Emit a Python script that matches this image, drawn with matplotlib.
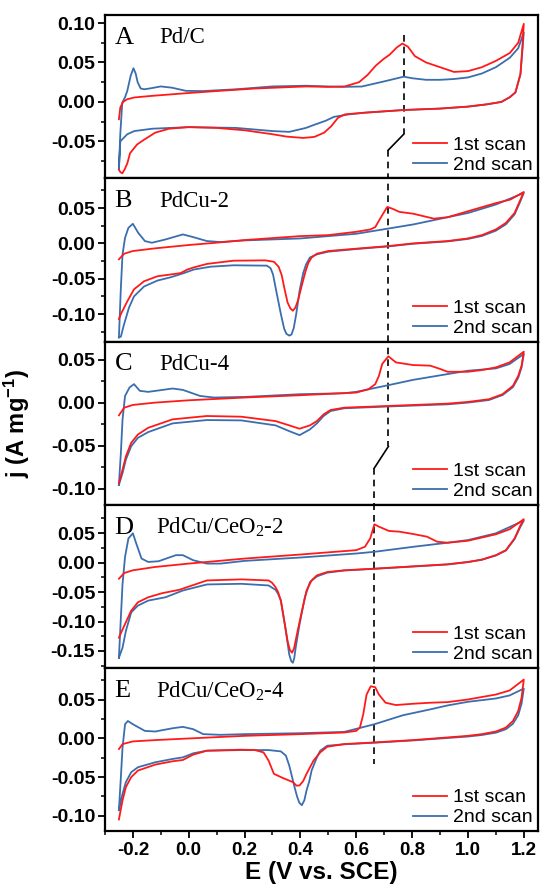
import matplotlib
matplotlib.use("Agg")
import matplotlib.pyplot as plt
from matplotlib.ticker import MultipleLocator, FormatStrFormatter

plt.rcParams['font.family'] = ['Liberation Sans', 'DejaVu Sans']
plt.rcParams['mathtext.default'] = 'regular'

# ---- data: potential E (V vs SCE) and current j (A/mg)
# each scan = anodic sweep (-0.25 -> 1.2) followed by cathodic sweep back

# A  Pd/C
A1_E = [-0.25, -0.245, -0.235, -0.22, -0.195, -0.13, -0.01, 0.11, 0.24, 0.42, 0.5, 0.56, 0.61,
        0.64, 0.67, 0.7, 0.72, 0.745, 0.765, 0.785, 0.81, 0.85, 0.9, 0.95, 1.0, 1.05, 1.1, 1.15,
        1.18, 1.2,
        1.195, 1.188, 1.17, 1.15, 1.12, 1.07, 1.0, 0.9, 0.77, 0.63, 0.56, 0.535, 0.51, 0.485,
        0.45, 0.41, 0.35, 0.3, 0.2, 0.1, 0.0, -0.07, -0.12, -0.16, -0.185, -0.21, -0.22, -0.23,
        -0.238, -0.245, -0.25]
A1_j = [-0.022, -0.007, 0.0, 0.0034, 0.0056, 0.0077, 0.011, 0.014, 0.017, 0.0196, 0.019, 0.0197,
        0.025, 0.034, 0.046, 0.055, 0.06, 0.069, 0.074, 0.07, 0.058, 0.05, 0.044, 0.038, 0.039,
        0.044, 0.052, 0.062, 0.075, 0.099,
        0.07, 0.035, 0.012, 0.006, 0.0, -0.003, -0.006, -0.0085, -0.0103, -0.0137, -0.0158,
        -0.02, -0.031, -0.039, -0.0444, -0.0457, -0.044, -0.041, -0.036, -0.033, -0.032, -0.034,
        -0.039, -0.048, -0.054, -0.065, -0.078, -0.086, -0.0906, -0.089, -0.086]
A2_E = [-0.25, -0.245, -0.238, -0.228, -0.22, -0.208, -0.198, -0.19, -0.183, -0.172, -0.16,
        -0.14, -0.1, -0.06, -0.01, 0.05, 0.17, 0.3, 0.42, 0.55, 0.62, 0.7, 0.77, 0.8, 0.85, 0.9,
        0.95, 1.0, 1.05, 1.1, 1.15, 1.18, 1.2,
        1.195, 1.188, 1.17, 1.15, 1.12, 1.07, 1.0, 0.9, 0.77, 0.63, 0.57, 0.52, 0.49, 0.45,
        0.42, 0.36, 0.3, 0.17, 0.0, -0.13, -0.195, -0.22, -0.245, -0.25]
A2_j = [-0.085, -0.04, -0.001, 0.006, 0.014, 0.033, 0.0427, 0.036, 0.025, 0.017, 0.016, 0.017,
        0.0196, 0.018, 0.014, 0.0137, 0.016, 0.0196, 0.0205, 0.019, 0.0195, 0.026, 0.032, 0.03,
        0.028, 0.028, 0.029, 0.031, 0.036, 0.044, 0.056, 0.068, 0.088,
        0.065, 0.035, 0.012, 0.006, 0.0, -0.003, -0.006, -0.0085, -0.0103, -0.0137, -0.016,
        -0.019, -0.024, -0.029, -0.033, -0.038, -0.037, -0.033, -0.032, -0.034, -0.037, -0.041,
        -0.05, -0.085]

# B  PdCu-2
B1_E = [-0.25, -0.231, -0.2, -0.12, 0.0, 0.1, 0.2, 0.4, 0.5, 0.6, 0.65, 0.668, 0.687, 0.711,
        0.73, 0.754, 0.804, 0.841, 0.878, 0.927, 1.0, 1.1, 1.152, 1.2,
        1.186, 1.167, 1.136, 1.1, 1.05, 1.0, 0.927, 0.804, 0.715, 0.6, 0.5, 0.459, 0.44, 0.428,
        0.418, 0.403, 0.392, 0.382, 0.373, 0.364, 0.354, 0.342, 0.333, 0.322, 0.305, 0.274,
        0.16, 0.066, 0.018, -0.005, -0.029, -0.065, -0.112, -0.16, -0.196, -0.22, -0.243, -0.25]
B1_j = [-0.0225, -0.0146, -0.0108, -0.007, -0.0023, 0.001, 0.0047, 0.0103, 0.0117, 0.0164,
        0.0197, 0.023, 0.036, 0.0516, 0.049, 0.0446, 0.042, 0.0385, 0.035, 0.037, 0.0455, 0.057,
        0.062, 0.0728,
        0.06, 0.043, 0.029, 0.0197, 0.0117, 0.007, 0.0033, 0.0, -0.0038, -0.0075, -0.0108,
        -0.0146, -0.02, -0.028, -0.04, -0.0624, -0.08, -0.091, -0.0953, -0.092, -0.0836,
        -0.0624, -0.045, -0.033, -0.026, -0.024,
        -0.0245, -0.029, -0.034, -0.037, -0.042, -0.044, -0.0465, -0.0536, -0.065, -0.082,
        -0.1, -0.107]
B2_E = [-0.25, -0.243, -0.237, -0.228, -0.216, -0.2, -0.181, -0.157, -0.132, -0.083, -0.021,
        0.016, 0.065, 0.114, 0.2, 0.4, 0.6, 0.715, 0.804, 0.927, 1.0, 1.1, 1.2,
        1.186, 1.167, 1.136, 1.1, 1.05, 1.0, 0.927, 0.804, 0.715, 0.6, 0.5, 0.459, 0.434, 0.42,
        0.41, 0.397, 0.385, 0.376, 0.368, 0.36, 0.35, 0.342, 0.33, 0.311, 0.302, 0.293, 0.28,
        0.16, 0.078, 0.018, -0.017, -0.065, -0.112, -0.16, -0.196, -0.214, -0.232, -0.243,
        -0.25]
B2_j = [-0.133, -0.0624, -0.0155, 0.008, 0.022, 0.0277, 0.015, 0.0033, 0.0009, 0.0056, 0.0127,
        0.0089, 0.0033, 0.0019, 0.0042, 0.007, 0.0136, 0.021, 0.0268, 0.037, 0.043, 0.055, 0.0714,
        0.058, 0.041, 0.027, 0.018, 0.0105, 0.0063, 0.0028, -0.0005, -0.0043, -0.008, -0.0117,
        -0.0155, -0.02, -0.03, -0.042, -0.067, -0.1, -0.12, -0.129, -0.1305, -0.128, -0.121,
        -0.1, -0.0624, -0.044, -0.035, -0.0315,
        -0.031, -0.033, -0.037, -0.042, -0.048, -0.0526, -0.061, -0.075, -0.091, -0.115,
        -0.132, -0.133]

# C  PdCu-4
C1_E = [-0.25, -0.231, -0.2, -0.12, 0.0, 0.2, 0.4, 0.6, 0.644, 0.668, 0.681, 0.693, 0.715,
        0.742, 0.804, 0.865, 0.902, 0.927, 1.0, 1.05, 1.1, 1.149, 1.2,
        1.192, 1.18, 1.161, 1.124, 1.075, 1.0, 0.927, 0.715, 0.557, 0.508, 0.483, 0.459, 0.434,
        0.397, 0.36, 0.311, 0.188, 0.065, -0.058, -0.145, -0.182, -0.206, -0.225, -0.237, -0.25]
C1_j = [-0.0148, -0.0059, -0.0027, 0.0, 0.0027, 0.0059, 0.0086, 0.0117, 0.0156, 0.0215, 0.031,
        0.045, 0.0539, 0.0468, 0.0437, 0.043, 0.039, 0.0359, 0.0359, 0.0379, 0.041, 0.0468,
        0.0593,
        0.043, 0.031, 0.0195, 0.0098, 0.0039, 0.0008, -0.0012, -0.0039, -0.0059, -0.0086,
        -0.0137, -0.0215, -0.0265, -0.0304, -0.0265, -0.0215, -0.0164, -0.0156, -0.0195,
        -0.0293, -0.0371, -0.0468, -0.0625, -0.078, -0.0937]
C2_E = [-0.25, -0.243, -0.237, -0.228, -0.212, -0.196, -0.175, -0.145, -0.058, -0.021, 0.04,
        0.089, 0.2, 0.4, 0.557, 0.6, 0.715, 0.804, 0.927, 1.0, 1.1, 1.149, 1.2,
        1.192, 1.18, 1.161, 1.124, 1.075, 1.0, 0.927, 0.715, 0.557, 0.508, 0.483, 0.459, 0.434,
        0.397, 0.36, 0.311, 0.188, 0.065, -0.058, -0.145, -0.182, -0.206, -0.225, -0.237, -0.25]
C2_j = [-0.0956, -0.0585, -0.0195, 0.0078, 0.0176, 0.0215, 0.0137, 0.0125, 0.0164, 0.0148,
        0.0078, 0.0059, 0.0066, 0.0098, 0.0109, 0.0125, 0.0203, 0.0265, 0.0332, 0.0371, 0.0398,
        0.0449, 0.0566,
        0.041, 0.029, 0.018, 0.0088, 0.003, 0.0, -0.002, -0.0045, -0.0066, -0.0098, -0.0156,
        -0.0242, -0.0312, -0.0379, -0.0332, -0.0265, -0.0207, -0.0203, -0.0242, -0.0343,
        -0.041, -0.0507, -0.0663, -0.082, -0.0956]

# D  PdCu/CeO2-2
D1_E = [-0.25, -0.231, -0.2, -0.12, 0.0, 0.2, 0.4, 0.6, 0.631, 0.65, 0.665, 0.681, 0.717, 0.754,
        0.804, 0.853, 0.89, 0.927, 1.0, 1.1, 1.149, 1.2,
        1.186, 1.167, 1.136, 1.1, 1.05, 1.0, 0.927, 0.665, 0.557, 0.496, 0.459, 0.44, 0.422,
        0.403, 0.385, 0.377, 0.37, 0.362, 0.354, 0.342, 0.33, 0.32, 0.311, 0.298, 0.286, 0.188,
        0.065, -0.034, -0.095, -0.145, -0.182, -0.206, -0.231, -0.25]
D1_j = [-0.0274, -0.0177, -0.0131, -0.0074, -0.0017, 0.0068, 0.0137, 0.0211, 0.0268, 0.0411,
        0.065, 0.061, 0.0537, 0.0525, 0.0485, 0.044, 0.0354, 0.0337, 0.0371, 0.048, 0.0565,
        0.0736,
        0.061, 0.041, 0.0211, 0.0126, 0.0051, 0.0011, -0.0029, -0.0103, -0.0131, -0.016,
        -0.0217, -0.0303, -0.0474, -0.0873, -0.1273, -0.146, -0.153, -0.148, -0.133, -0.0987,
        -0.0645, -0.05, -0.0417, -0.034, -0.0303, -0.0285, -0.0303, -0.0462, -0.0519, -0.0588,
        -0.0674, -0.0816, -0.1073, -0.1273]
D2_E = [-0.25, -0.243, -0.237, -0.228, -0.216, -0.2, -0.188, -0.169, -0.145, -0.108, -0.046,
        -0.021, 0.016, 0.065, 0.114, 0.2, 0.4, 0.6, 0.665, 0.804, 0.927, 1.0, 1.1, 1.2,
        1.186, 1.167, 1.136, 1.1, 1.05, 1.0, 0.927, 0.665, 0.557, 0.496, 0.459, 0.434, 0.416,
        0.397, 0.383, 0.378, 0.373, 0.367, 0.36, 0.346, 0.33, 0.32, 0.311, 0.286, 0.188, 0.065,
        -0.021, -0.083, -0.145, -0.182, -0.206, -0.225, -0.237, -0.25]
D2_j = [-0.1615, -0.093, -0.036, 0.0097, 0.041, 0.0497, 0.0325, 0.0068, 0.0011, 0.0023,
        0.0126, 0.0126, 0.004, -0.0017, -0.0017, 0.0029, 0.0086, 0.0154, 0.0183, 0.0268, 0.0337,
        0.0382, 0.0497, 0.0713,
        0.059, 0.04, 0.0205, 0.012, 0.0048, 0.0008, -0.0032, -0.0106, -0.0134, -0.0171,
        -0.0234, -0.0331, -0.0588, -0.1045, -0.1444, -0.162, -0.17, -0.167, -0.156, -0.11,
        -0.0645, -0.053, -0.0462, -0.0388, -0.036, -0.0371, -0.0474, -0.0588, -0.0645, -0.073,
        -0.0845, -0.1159, -0.1444, -0.1615]

# E  PdCu/CeO2-4
E1_E = [-0.25, -0.237, -0.2, -0.12, 0.0, 0.2, 0.4, 0.557, 0.6, 0.613, 0.625, 0.637, 0.652,
        0.668, 0.681, 0.705, 0.742, 0.804, 0.865, 0.927, 1.0, 1.1, 1.149, 1.2,
        1.192, 1.18, 1.161, 1.136, 1.1, 1.05, 1.0, 0.804, 0.665, 0.557, 0.496, 0.471, 0.447,
        0.422, 0.41, 0.397, 0.386, 0.373, 0.336, 0.305, 0.286, 0.268, 0.237, 0.188, 0.065,
        0.016, -0.021, -0.058, -0.12, -0.182, -0.206, -0.225, -0.237, -0.25]
E1_j = [-0.0137, -0.0073, -0.0038, -0.0021, 0.0, 0.0034, 0.0056, 0.0077, 0.0098, 0.0141,
        0.0312, 0.0568, 0.0675, 0.0662, 0.0568, 0.0462, 0.0432, 0.0449, 0.0462, 0.047, 0.0504,
        0.0568, 0.062, 0.0761,
        0.0526, 0.0355, 0.0226, 0.0141, 0.009, 0.0056, 0.0034, -0.0021, -0.0051, -0.0073,
        -0.0107, -0.018, -0.0286, -0.0457, -0.055, -0.0607, -0.061, -0.0564, -0.0509, -0.0457,
        -0.0286, -0.018, -0.015, -0.0145, -0.0158, -0.0209, -0.0278, -0.0295, -0.0338, -0.0415,
        -0.05, -0.0628, -0.0799, -0.1047]
E2_E = [-0.25, -0.243, -0.237, -0.228, -0.218, -0.2, -0.157, -0.12, -0.058, -0.021, 0.016,
        0.052, 0.114, 0.2, 0.4, 0.557, 0.665, 0.767, 0.865, 0.927, 1.0, 1.1, 1.149, 1.2,
        1.192, 1.18, 1.161, 1.136, 1.1, 1.05, 1.0, 0.804, 0.665, 0.557, 0.496, 0.471, 0.459,
        0.44, 0.432, 0.422, 0.414, 0.405, 0.396, 0.388, 0.379, 0.36, 0.348, 0.33, 0.286, 0.188,
        0.065, 0.016, -0.021, -0.058, -0.12, -0.182, -0.206, -0.225, -0.237, -0.25]
E2_j = [-0.0927, -0.05, -0.0115, 0.0184, 0.0226, 0.0184, 0.0098, 0.009, 0.0132, 0.015, 0.012,
        0.0056, 0.0047, 0.0056, 0.0068, 0.0085, 0.0184, 0.03, 0.0376, 0.0427, 0.0474, 0.0517,
        0.0556, 0.0645,
        0.045, 0.03, 0.019, 0.012, 0.0075, 0.0045, 0.0025, -0.0025, -0.0055, -0.0075, -0.0094,
        -0.0158, -0.0244, -0.0415, -0.055, -0.0671, -0.08, -0.0863, -0.083, -0.075, -0.0628,
        -0.035, -0.0222, -0.0167, -0.015, -0.015, -0.0158, -0.0192, -0.0244, -0.0265, -0.0308,
        -0.0372, -0.0436, -0.0564, -0.0714, -0.0927]

letters = ['A', 'B', 'C', 'D', 'E']
samples = ['Pd/C', 'PdCu-2', 'PdCu-4', 'PdCu/CeO$_2$-2', 'PdCu/CeO$_2$-4']
first_scans = [(A1_E, A1_j), (B1_E, B1_j), (C1_E, C1_j), (D1_E, D1_j), (E1_E, E1_j)]
second_scans = [(A2_E, A2_j), (B2_E, B2_j), (C2_E, C2_j), (D2_E, D2_j), (E2_E, E2_j)]
y_limits = [(-0.097, 0.11), (-0.139, 0.092), (-0.119, 0.071), (-0.179, 0.098), (-0.12, 0.091)]

# peak-position guide: (E, j_top, j_bottom) dashed pieces and (E0, j0, E1, j1) kinks
guide_dashes = [
    [(0.77, 0.085, -0.041), (0.715, -0.061, -0.2)],
    [(0.715, 0.2, -0.2)],
    [(0.715, 0.2, -0.051), (0.665, -0.076, -0.2)],
    [(0.665, 0.2, -0.2)],
    [(0.665, 0.2, -0.033)],
]
guide_kinks = [[(0.77, -0.041, 0.715, -0.061)], [], [(0.715, -0.051, 0.665, -0.076)], [], []]

red = '#ff1a1a'
blue = '#3a6eae'

fig, axes = plt.subplots(5, 1, figsize=(5.41, 8.91), dpi=100, sharex=True)
fig.subplots_adjust(left=0.194, right=0.994, top=0.983, bottom=0.067, hspace=0)

for i, ax in enumerate(axes):
    ax.plot(*first_scans[i], color=red, lw=1.3, label='1st scan', zorder=3,
            solid_joinstyle='round')
    ax.plot(*second_scans[i], color=blue, lw=1.3, label='2nd scan', zorder=2,
            solid_joinstyle='round')
    for e, top, bot in guide_dashes[i]:
        ax.plot([e, e], [top, bot], color='black', lw=1.2, ls=(0, (4, 3)), zorder=1)
    for e0, j0, e1, j1 in guide_kinks[i]:
        ax.plot([e0, e1], [j0, j1], color='black', lw=1.2, zorder=1)

    ax.set_xlim(-0.3, 1.25)
    ax.set_ylim(*y_limits[i])
    ax.yaxis.set_major_locator(MultipleLocator(0.05))
    ax.yaxis.set_minor_locator(MultipleLocator(0.025))
    ax.yaxis.set_major_formatter(FormatStrFormatter('%.2f'))
    ax.xaxis.set_major_locator(MultipleLocator(0.2))
    ax.xaxis.set_minor_locator(MultipleLocator(0.1))
    ax.xaxis.set_major_formatter(FormatStrFormatter('%.1f'))
    ax.tick_params(axis='y', which='major', direction='out', length=5, width=1.3,
                   labelsize=14, pad=2)
    ax.tick_params(axis='y', which='minor', direction='out', length=3, width=1.1)
    ax.tick_params(axis='x', which='both', bottom=(i == 4), labelbottom=(i == 4))
    for lab in ax.get_yticklabels():
        lab.set_fontweight('bold')
    for sp in ax.spines.values():
        sp.set_linewidth(1.6)

    ax.text(0.022, 0.86, letters[i], transform=ax.transAxes, fontsize=19,
            family='Liberation Serif', va='center', ha='left')
    ax.text(0.125 if i < 3 else 0.118, 0.86, samples[i], transform=ax.transAxes, fontsize=16.5,
            family='Liberation Serif', va='center', ha='left')
    ax.legend(loc='lower right', frameon=False, fontsize=14, handlelength=1.75,
              handletextpad=0.3, labelspacing=0.12, borderaxespad=0.1, borderpad=0.15)

bottom = axes[-1]
bottom.tick_params(axis='x', which='major', direction='out', length=5, width=1.3,
                   labelsize=13.5, pad=3)
bottom.tick_params(axis='x', which='minor', direction='out', length=3, width=1.1)
for lab in bottom.get_xticklabels():
    lab.set_fontweight('bold')
bottom.set_xlabel('E (V vs. SCE)', fontsize=17.5, fontweight='bold', labelpad=1)

fig.text(0.032, 0.525, 'j (A mg$^{-1}$)', rotation=90, fontsize=17, fontweight='bold',
         ha='center', va='center')

fig.savefig('out.png', dpi=100)
